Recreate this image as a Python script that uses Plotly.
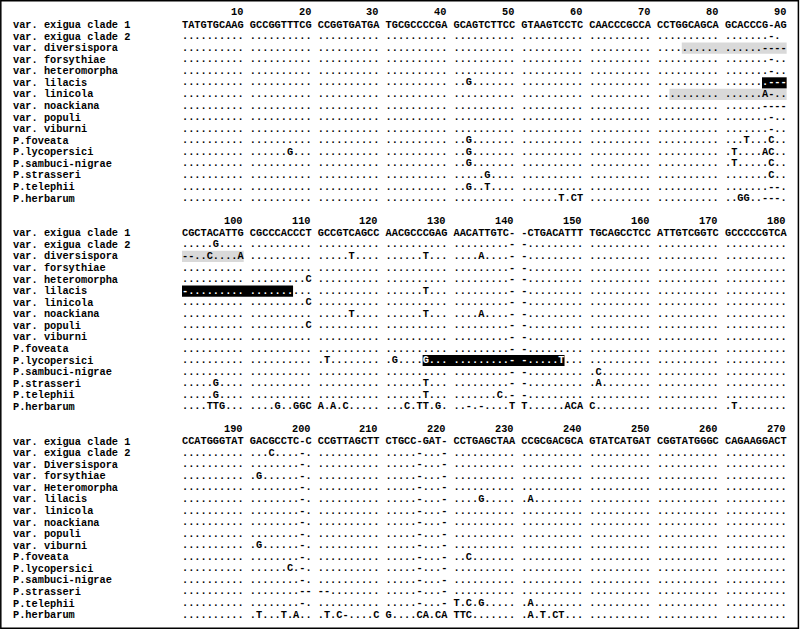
import plotly.graph_objects as go

# ---------------- data ----------------
labels_blocks_1_2 = [
    "var. exigua clade 1", "var. exigua clade 2", "var. diversispora", "var. forsythiae",
    "var. heteromorpha", "var. lilacis", "var. linicola", "var. noackiana", "var. populi",
    "var. viburni", "P.foveata", "P.lycopersici", "P.sambuci-nigrae", "P.strasseri",
    "P.telephii", "P.herbarum",
]
labels_block_3 = [
    "var. exigua clade 1", "var. exigua clade 2", "var. Diversispora", "var. forsythiae",
    "var. Heteromorpha", "var. lilacis", "var. linicola", "var. noackiana", "var. populi",
    "var. viburni", "P.foveata", "P.lycopersici", "P.sambuci-nigrae", "P.strasseri",
    "P.telephii", "P.herbarum",
]
block_first_col = [1, 91, 181]
tick_numbers = [
    [10, 20, 30, 40, 50, 60, 70, 80, 90],
    [100, 110, 120, 130, 140, 150, 160, 170, 180],
    [190, 200, 210, 220, 230, 240, 250, 260, 270],
]

D = ".........."
block1_rows = [
    "TATGTGCAAG GCCGGTTTCG CCGGTGATGA TGCGCCCCGA GCAGTCTTCC GTAAGTCCTC CAACCCGCCA CCTGGCAGCA GCACCCG-AG",
    f"{D} {D} {D} {D} {D} {D} {D} {D} .......-.",
    f"{D} {D} {D} {D} {D} {D} {D} {D} ......----",
    f"{D} {D} {D} {D} {D} {D} {D} {D} .......-..",
    f"{D} {D} {D} {D} {D} {D} {D} {D} .......-..",
    f"{D} {D} {D} {D} ..G....... {D} {D} {D} .......---",
    f"{D} {D} {D} {D} {D} {D} {D} {D} ......A-..",
    f"{D} {D} {D} {D} {D} {D} {D} {D} ......----",
    f"{D} {D} {D} {D} {D} {D} {D} {D} .......-..",
    f"{D} {D} {D} {D} {D} {D} {D} {D} .......-..",
    f"{D} {D} {D} {D} ..G....... {D} {D} {D} ...T...C..",
    f"{D} ......G... {D} {D} ..G....... {D} {D} {D} .T....AC..",
    f"{D} {D} {D} {D} ..G....... {D} {D} {D} .T.....C..",
    f"{D} {D} {D} {D} .....G.... {D} {D} {D} .......C..",
    f"{D} {D} {D} {D} ..G..T.... {D} {D} {D} .......--.",
    f"{D} {D} {D} {D} {D} ......T.CT {D} {D} ..GG..---.",
]
block2_rows = [
    "CGCTACATTG CGCCCACCCT GCCGTCAGCC AACGCCCGAG AACATTGTC- -CTGACATTT TGCAGCCTCC ATTGTCGGTC GCCCCCGTCA",
    f".....G.... {D} {D} {D} .........- -......... {D} {D} {D}",
    f"--..C....A {D} .....T.... ......T... ....A....- -......... {D} {D} {D}",
    f"{D} {D} {D} {D} .........- -......... {D} {D} {D}",
    f"{D} .........C {D} {D} .........- -......... {D} {D} {D}",
    f"-......... {D} {D} ......T... .........- -......... {D} {D} {D}",
    f"{D} .........C {D} {D} .........- -......... {D} {D} {D}",
    f"{D} {D} .....T.... ......T... ....A....- -......... {D} {D} {D}",
    f"{D} .........C {D} {D} .........- -......... {D} {D} {D}",
    f"{D} {D} {D} {D} .........- -......... {D} {D} {D}",
    f"{D} {D} {D} {D} .........- -......... {D} {D} {D}",
    f"{D} {D} .T........ .G....G... .........- -.....T... {D} {D} {D}",
    f"{D} {D} {D} {D} .........- -......... .C........ {D} {D}",
    f".....G.... {D} {D} ......T... .........- -......... .A........ {D} {D}",
    f".....G.... {D} {D} ......T... .......C.- -......... {D} {D} {D}",
    f"....TTG... ....G..GGC A.A.C..... ...C.TT.G. ..-.-....T T......ACA C......... {D} .T........",
]
G2 = "........-."
G4 = ".....-...-"
block3_rows = [
    "CCATGGGTAT GACGCCTC-C CCGTTAGCTT CTGCC-GAT- CCTGAGCTAA CCGCGACGCA GTATCATGAT CGGTATGGGC CAGAAGGACT",
    f"{D} ...C....-. {D} {G4} {D} {D} {D} {D} {D}",
    f"{D} {G2} {D} {G4} {D} {D} {D} {D} {D}",
    f"{D} .G......-. {D} {G4} {D} {D} {D} {D} {D}",
    f"{D} {G2} {D} {G4} {D} {D} {D} {D} {D}",
    f"{D} {G2} {D} {G4} ....G..... .A........ {D} {D} {D}",
    f"{D} {G2} {D} {G4} {D} {D} {D} {D} {D}",
    f"{D} {G2} {D} {G4} {D} {D} {D} {D} {D}",
    f"{D} {G2} {D} {G4} {D} {D} {D} {D} {D}",
    f"{D} .G......-. {D} {G4} {D} {D} {D} {D} {D}",
    f"{D} {G2} {D} {G4} ..C....... {D} {D} {D} {D}",
    f"{D} ......C.-. {D} {G4} {D} {D} {D} {D} {D}",
    f"{D} {G2} {D} {G4} {D} {D} {D} {D} {D}",
    f"{D} ........-- --........ {G4} {D} {D} {D} {D} {D}",
    f"{D} {G2} {D} {G4} T.C.G..... .A........ {D} {D} {D}",
    f"{D} .T...T.A.. .T.C-....C G....CA.CA TTC....... .A.T.CT... {D} {D} {D}",
]
blocks = [block1_rows, block2_rows, block3_rows]
block_labels = [labels_blocks_1_2, labels_blocks_1_2, labels_block_3]

# highlighted alignment stretches: (row index, first column, last column, kind)
highlights = [
    (2, 75, 100, "shade"),
    (6, 73, 90, "shade"),
    (5, 87, 107, "inverse"),
    (11, 127, 147, "inverse"),
]

# ---------------- layout constants ----------------
W, H = 800, 629
CHAR_W = 6.17        # px per character cell
SEQ_X0 = 182.0       # px, left edge of first sequence column
LABEL_X0 = 12.0      # px, left edge of labels
ROW_H = 11.57        # px per text line
FIRST_ROW_Y = 25.0   # px, centre of first consensus line
LINES_PER_BLOCK = 18
HEADER_OFFSET = 1.1  # lines above consensus
FONT = dict(family="Liberation Mono, Courier New, monospace", size=10.3, color="black", weight="bold")
SHADE = "#d9d9d9"


def cell(c):
    """x of left edge of 0-based block column c (groups of ten separated by one blank)."""
    return c + c // 10


def line_of(b, r):
    return b * LINES_PER_BLOCK + 1 + r


def is_inverse(r, col):
    return any(hr == r and lo <= col <= hi and k == "inverse" for hr, lo, hi, k in highlights)


xb, yb, tb, xw, yw, tw = [], [], [], [], [], []
for b, rows in enumerate(blocks):
    for r, row in enumerate(rows):
        seq = row.replace(" ", "")
        for c, ch in enumerate(seq):
            col = block_first_col[b] + c
            x = cell(c) + 0.5
            y = line_of(b, r)
            if is_inverse(r, col):
                xw.append(x); yw.append(y); tw.append(ch)
            else:
                xb.append(x); yb.append(y); tb.append(ch)

fig = go.Figure()
fig.add_trace(go.Scatter(x=xb, y=yb, text=tb, mode="text", textposition="middle center",
                         textfont=FONT, hoverinfo="skip", showlegend=False))
fig.add_trace(go.Scatter(x=xw, y=yw, text=tw, mode="text", textposition="middle center",
                         textfont=dict(FONT, color="white"), hoverinfo="skip", showlegend=False))

shapes = []
for b in range(3):
    first = block_first_col[b]
    last = first + 89
    for r, lo, hi, kind in highlights:
        a, z = max(lo, first), min(hi, last)
        if a > z:
            continue
        shapes.append(dict(type="rect", xref="x", yref="y", layer="below",
                           x0=cell(a - first), x1=cell(z - first) + 1,
                           y0=line_of(b, r) - 0.48, y1=line_of(b, r) + 0.48,
                           fillcolor="black" if kind == "inverse" else SHADE, line=dict(width=0)))
shapes.append(dict(type="rect", xref="paper", yref="paper", x0=0.001, x1=0.998, y0=0.001, y1=0.999,
                   line=dict(color="black", width=1.5), fillcolor="rgba(0,0,0,0)"))

annotations = []
for b in range(3):
    for r, name in enumerate(block_labels[b]):
        annotations.append(dict(x=(LABEL_X0 - SEQ_X0) / CHAR_W, y=line_of(b, r), xref="x", yref="y",
                                text=name, showarrow=False, xanchor="left", yanchor="middle",
                                font=FONT, borderpad=0))
    for n in tick_numbers[b]:
        c = n - block_first_col[b]
        annotations.append(dict(x=cell(c) + 1, y=line_of(b, 0) - HEADER_OFFSET, xref="x", yref="y",
                                text=str(n), showarrow=False, xanchor="right", yanchor="middle",
                                font=FONT, borderpad=0))

top = 1 - FIRST_ROW_Y / ROW_H
fig.update_layout(
    width=W, height=H, margin=dict(l=0, r=0, t=0, b=0),
    paper_bgcolor="white", plot_bgcolor="white",
    xaxis=dict(visible=False, range=[-SEQ_X0 / CHAR_W, (W - SEQ_X0) / CHAR_W], fixedrange=True),
    yaxis=dict(visible=False, range=[top + H / ROW_H, top], fixedrange=True),
    shapes=shapes, annotations=annotations, showlegend=False,
)
fig.write_html("out.html", config={"displayModeBar": False},
               post_script="document.body.style.margin='0';document.body.style.overflow='hidden';")
